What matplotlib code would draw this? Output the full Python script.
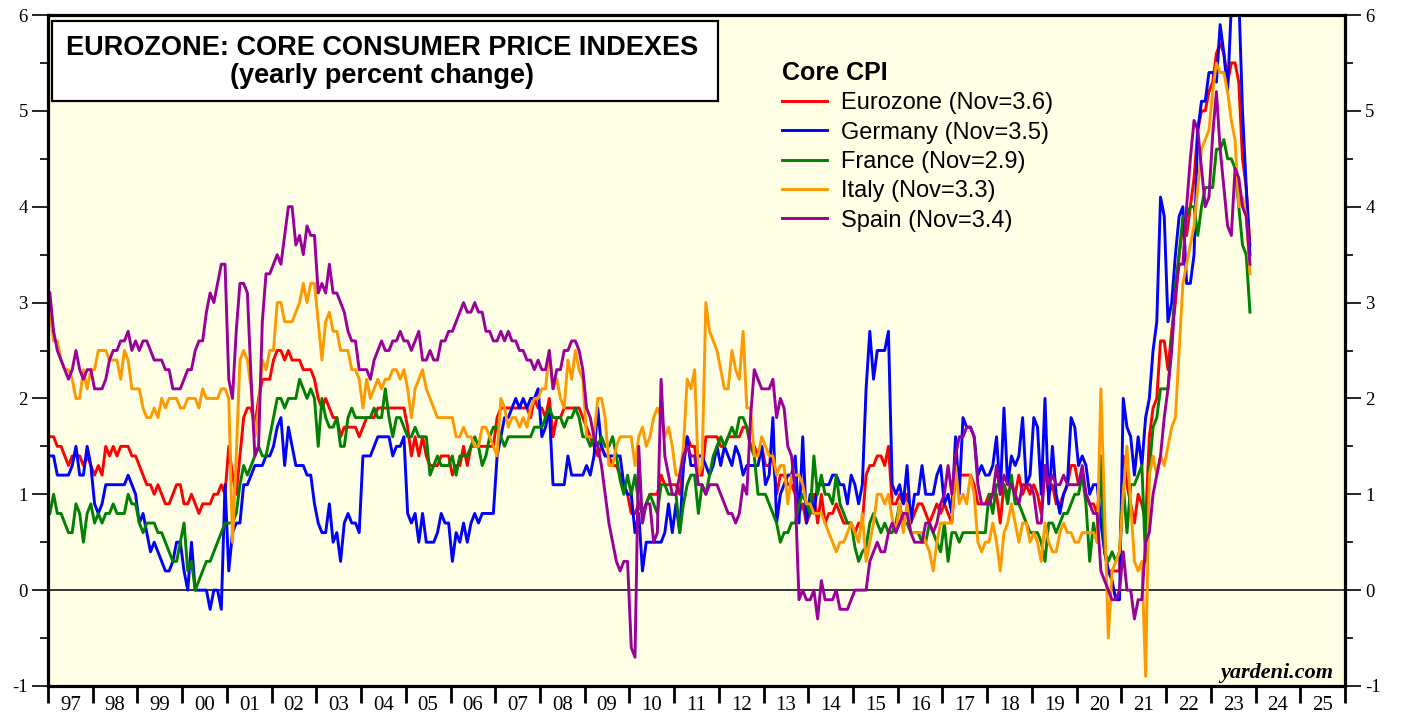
import matplotlib
matplotlib.use('Agg')
import matplotlib.pyplot as plt
from matplotlib.patches import Rectangle
import numpy as np
import pandas as pd

# monthly core CPI, yearly % change, Jan 1997 .. Nov 2023 (one row per year)
eurozone = [
    1.6, 1.6, 1.5, 1.5, 1.4, 1.3, 1.4, 1.4, 1.4, 1.3, 1.4, 1.3,
    1.2, 1.3, 1.2, 1.5, 1.4, 1.5, 1.4, 1.5, 1.5, 1.5, 1.4, 1.4,
    1.3, 1.2, 1.1, 1.1, 1.0, 1.1, 1.0, 0.9, 0.9, 1.0, 1.1, 1.1,
    0.9, 0.9, 1.0, 0.9, 0.8, 0.9, 0.9, 0.9, 1.0, 1.0, 1.1, 1.0,
    1.5, 1.2, 1.0, 1.4, 1.8, 1.9, 1.9, 1.7, 2.0, 2.2, 2.2, 2.2,
    2.4, 2.5, 2.5, 2.4, 2.5, 2.4, 2.4, 2.4, 2.3, 2.3, 2.3, 2.2,
    2.0, 1.9, 2.0, 1.9, 1.8, 1.8, 1.6, 1.7, 1.7, 1.7, 1.7, 1.6,
    1.7, 1.8, 1.8, 1.8, 1.9, 1.9, 1.9, 1.9, 1.9, 1.9, 1.9, 1.9,
    1.7, 1.4, 1.6, 1.4, 1.6, 1.4, 1.3, 1.3, 1.3, 1.4, 1.4, 1.4,
    1.2, 1.3, 1.3, 1.5, 1.3, 1.5, 1.5, 1.5, 1.5, 1.5, 1.5, 1.5,
    1.8, 1.9, 1.9, 1.9, 1.9, 1.9, 1.9, 1.9, 1.9, 1.8, 2.0, 1.9,
    1.9, 1.8, 2.0, 1.6, 1.8, 1.8, 1.9, 1.9, 1.9, 1.9, 1.9, 1.8,
    1.7, 1.6, 1.5, 1.4, 1.5, 1.4, 1.4, 1.3, 1.3, 1.2, 1.1, 1.0,
    0.8, 0.8, 0.9, 0.8, 0.9, 1.0, 1.0, 1.0, 1.2, 1.1, 1.1, 1.1,
    1.1, 1.0, 1.3, 1.6, 1.5, 1.5, 1.2, 1.2, 1.6, 1.6, 1.6, 1.6,
    1.5, 1.5, 1.6, 1.6, 1.6, 1.6, 1.7, 1.7, 1.5, 1.5, 1.4, 1.5,
    1.3, 1.3, 1.4, 1.0, 1.2, 1.2, 1.1, 1.1, 1.0, 0.8, 0.9, 0.7,
    0.8, 1.0, 0.7, 1.0, 0.7, 0.8, 0.8, 0.9, 0.8, 0.7, 0.7, 0.7,
    0.6, 0.7, 0.7, 1.2, 1.3, 1.3, 1.4, 1.4, 1.3, 1.5, 0.9, 0.9,
    1.0, 0.9, 1.0, 0.7, 0.8, 0.9, 0.9, 0.8, 0.7, 0.8, 0.9, 0.8,
    0.9, 0.8, 0.7, 1.2, 1.2, 1.2, 1.2, 1.2, 1.1, 0.9, 0.9, 0.9,
    1.0, 1.0, 1.0, 0.7, 1.1, 1.0, 1.1, 1.0, 1.2, 1.0, 1.1, 1.0,
    1.1, 1.0, 0.8, 1.3, 1.0, 1.1, 0.9, 0.9, 1.0, 1.1, 1.3, 1.3,
    1.1, 1.2, 1.0, 0.9, 0.9, 0.8, 1.2, 0.4, 0.2, 0.2, 0.2, 0.2,
    1.4, 1.1, 0.9, 0.7, 1.0, 0.9, 0.7, 1.6, 1.9, 2.0, 2.6, 2.6,
    2.3, 2.7, 3.0, 3.5, 3.8, 3.7, 4.0, 4.3, 4.8, 5.0, 5.0, 5.2,
    5.3, 5.6, 5.7, 5.6, 5.3, 5.5, 5.5, 5.3, 4.5, 4.2, 3.6,
]
germany = [
    1.4, 1.4, 1.2, 1.2, 1.2, 1.2, 1.3, 1.5, 1.2, 1.2, 1.5, 1.3,
    0.9, 0.8, 0.9, 1.1, 1.1, 1.1, 1.1, 1.1, 1.1, 1.2, 1.1, 1.0,
    0.7, 0.8, 0.6, 0.4, 0.5, 0.4, 0.3, 0.2, 0.2, 0.3, 0.5, 0.5,
    0.2, 0.0, 0.5, 0.0, 0.0, 0.0, 0.0, -0.2, 0.0, 0.0, -0.2, 1.1,
    0.2, 0.6, 0.7, 0.7, 1.1, 1.1, 1.2, 1.3, 1.3, 1.3, 1.4, 1.4,
    1.5, 1.7, 1.8, 1.3, 1.7, 1.5, 1.3, 1.3, 1.3, 1.2, 1.2, 0.9,
    0.7, 0.6, 0.6, 0.9, 0.5, 0.6, 0.3, 0.7, 0.8, 0.7, 0.7, 0.6,
    1.4, 1.4, 1.4, 1.5, 1.6, 1.6, 1.6, 1.6, 1.4, 1.5, 1.5, 1.6,
    0.8, 0.7, 0.8, 0.5, 0.8, 0.5, 0.5, 0.5, 0.6, 0.8, 0.7, 0.7,
    0.3, 0.6, 0.5, 0.7, 0.5, 0.7, 0.8, 0.7, 0.8, 0.8, 0.8, 0.8,
    1.4, 1.6, 1.8, 1.8, 1.9, 2.0, 1.9, 2.0, 1.9, 2.0, 2.0, 2.1,
    1.6, 1.7, 1.9, 1.1, 1.1, 1.1, 1.1, 1.4, 1.2, 1.2, 1.2, 1.2,
    1.3, 1.2, 1.4, 1.9, 1.5, 1.4, 1.4, 1.4, 1.4, 1.4, 1.1, 1.0,
    1.0, 0.6, 0.8, 0.2, 0.5, 0.5, 0.5, 0.5, 0.5, 0.6, 0.9, 0.6,
    0.9, 0.6, 1.3, 1.6, 1.3, 1.3, 1.4, 1.4, 1.3, 1.2, 1.3, 1.5,
    1.3, 1.5, 1.4, 1.3, 1.5, 1.4, 1.2, 1.3, 1.3, 1.3, 1.3, 1.5,
    1.1, 1.2, 1.8, 0.7, 1.0, 1.1, 1.2, 1.2, 1.4, 0.7, 1.6, 0.7,
    1.0, 0.8, 1.1, 1.1, 1.1, 1.1, 1.2, 1.2, 1.1, 1.1, 0.9, 1.2,
    1.1, 0.9, 1.1, 2.1, 2.7, 2.2, 2.5, 2.5, 2.5, 2.7, 1.1, 1.0,
    1.1, 0.9, 1.3, 0.7, 1.0, 1.0, 1.3, 1.0, 1.0, 1.0, 1.2, 1.3,
    0.9, 1.0, 0.8, 1.6, 1.0, 1.8, 1.7, 1.7, 1.6, 1.2, 1.3, 1.2,
    1.2, 1.3, 1.6, 1.0, 1.9, 1.1, 1.4, 1.3, 1.4, 1.8, 1.1, 1.2,
    1.8, 1.7, 1.0, 2.0, 0.9, 1.5, 1.0, 0.8, 1.0, 1.1, 1.8, 1.7,
    1.3, 1.4, 1.3, 1.0, 1.1, 1.1, 0.7, 0.4, 0.2, 0.1, -0.1, -0.1,
    2.0, 1.7, 1.6, 1.2, 1.6, 1.3, 1.8, 2.0, 2.5, 2.8, 4.1, 3.9,
    2.8, 3.0, 3.5, 3.9, 4.0, 3.2, 3.2, 3.5, 4.8, 5.1, 5.1, 5.4,
    5.4, 5.3, 5.9, 5.6, 5.2, 6.1, 6.3, 6.2, 5.0, 4.2, 3.5,
]
france = [
    0.8, 1.0, 0.8, 0.8, 0.7, 0.6, 0.6, 0.9, 0.8, 0.5, 0.8, 0.9,
    0.7, 0.8, 0.7, 0.8, 0.8, 0.9, 0.8, 0.8, 0.8, 1.0, 0.9, 0.9,
    0.7, 0.6, 0.7, 0.7, 0.7, 0.6, 0.6, 0.5, 0.4, 0.3, 0.3, 0.5,
    0.7, 0.2, 0.3, 0.0, 0.1, 0.2, 0.3, 0.3, 0.4, 0.5, 0.6, 0.7,
    0.7, 0.7, 0.8, 1.1, 1.3, 1.2, 1.3, 1.4, 1.5, 1.4, 1.4, 1.6,
    1.8, 2.0, 2.0, 1.9, 2.0, 2.0, 2.0, 2.2, 2.1, 2.0, 2.1, 2.0,
    1.5, 2.0, 1.8, 1.7, 1.7, 1.8, 1.5, 1.5, 1.8, 1.9, 1.8, 1.8,
    1.8, 1.8, 1.8, 1.9, 1.8, 1.8, 2.1, 1.8, 1.6, 1.8, 1.8, 1.7,
    1.6, 1.6, 1.7, 1.6, 1.6, 1.6, 1.2, 1.3, 1.4, 1.3, 1.3, 1.3,
    1.4, 1.2, 1.4, 1.4, 1.4, 1.5, 1.6, 1.5, 1.3, 1.4, 1.6, 1.7,
    1.7, 1.6, 1.5, 1.6, 1.6, 1.6, 1.6, 1.6, 1.6, 1.6, 1.7, 1.7,
    1.7, 1.8, 1.9, 1.8, 1.8, 1.8, 1.7, 1.8, 1.8, 1.9, 1.8, 1.6,
    1.6, 1.5, 1.6, 1.5, 1.6, 1.5, 1.5, 1.6, 1.4, 1.15, 1.0, 1.2,
    1.0, 1.2, 0.9, 0.8, 0.9, 1.0, 0.9, 0.8, 1.1, 1.1, 1.0, 1.0,
    1.0, 0.6, 0.9, 1.1, 1.2, 1.2, 0.8, 1.1, 1.0, 1.2, 1.4, 1.5,
    1.6, 1.5, 1.6, 1.7, 1.6, 1.8, 1.8, 1.7, 1.5, 1.4, 1.0, 1.0,
    1.0, 0.9, 0.8, 0.7, 0.5, 0.6, 0.6, 0.7, 0.7, 0.9, 1.0, 0.9,
    0.8, 1.4, 1.0, 1.2, 1.0, 1.0, 0.9, 1.2, 0.9, 0.8, 0.7, 0.7,
    0.45, 0.3, 0.4, 0.45, 0.7, 0.8, 0.7, 0.6, 0.7, 0.6, 0.6, 0.7,
    0.9, 0.7, 0.7, 0.6, 0.6, 0.6, 0.5, 0.5, 0.7, 0.6, 0.5, 0.4,
    0.7, 0.3, 0.6, 0.6, 0.5, 0.6, 0.6, 0.6, 0.6, 0.6, 0.6, 0.6,
    1.0, 0.8, 1.1, 1.1, 1.1, 0.9, 1.2, 0.9, 0.9, 0.8, 0.7, 0.6,
    0.6, 0.6, 0.5, 0.3, 0.7, 0.7, 0.6, 0.7, 0.8, 0.8, 0.9, 1.0,
    1.0, 1.2, 0.9, 0.3, 0.7, 0.5, 1.4, 0.4, 0.3, 0.4, 0.3, 0.4,
    1.1, 0.6, 1.1, 1.1, 1.2, 1.3, 0.3, 1.25, 1.7, 1.8, 2.1, 2.1,
    2.1, 2.6, 3.2, 3.5, 3.9, 3.9, 4.0, 4.0, 3.7, 4.0, 4.2, 4.2,
    4.2, 4.6, 4.6, 4.7, 4.5, 4.5, 4.4, 4.0, 3.6, 3.5, 2.9,
]
italy = [
    2.9, 2.6, 2.6, 2.4, 2.3, 2.3, 2.2, 2.0, 2.0, 2.3, 2.1, 2.3,
    2.3, 2.5, 2.5, 2.5, 2.4, 2.4, 2.4, 2.2, 2.5, 2.4, 2.1, 2.1,
    2.1, 1.9, 1.8, 1.8, 1.9, 1.8, 2.0, 1.9, 2.0, 2.0, 2.0, 1.9,
    1.9, 2.0, 2.0, 2.0, 1.9, 2.1, 2.0, 2.0, 2.0, 2.0, 2.1, 2.1,
    2.0, 0.5, 1.4, 2.4, 2.5, 2.4, 2.1, 1.6, 1.9, 2.4, 2.3, 2.5,
    2.5, 3.0, 3.0, 2.8, 2.8, 2.8, 2.9, 3.0, 3.2, 3.0, 3.2, 3.2,
    2.8, 2.4, 2.8, 2.9, 2.7, 2.7, 2.5, 2.5, 2.5, 2.3, 2.3, 2.2,
    1.9, 2.2, 2.0, 2.1, 2.2, 2.1, 2.2, 2.2, 2.3, 2.3, 2.2, 2.3,
    2.1, 1.8, 2.1, 2.2, 2.3, 2.1, 2.0, 1.9, 1.8, 1.8, 1.8, 1.8,
    1.8, 1.6, 1.6, 1.7, 1.6, 1.6, 1.5, 1.5, 1.7, 1.7, 1.6, 1.5,
    1.4, 2.0, 1.9, 1.7, 1.8, 1.8, 1.7, 1.8, 1.7, 1.9, 2.0, 2.0,
    2.1, 2.1, 2.5, 2.1, 2.2, 2.0, 1.9, 2.4, 2.2, 2.5, 2.3, 2.2,
    1.6, 1.6, 1.6, 2.0, 2.0, 1.8, 1.3, 1.3, 1.5, 1.6, 1.6, 1.6,
    1.6, 1.3, 1.6, 1.7, 1.5, 1.6, 1.8, 1.9, 1.8, 1.6, 1.7, 1.5,
    1.2, 1.2, 1.5, 2.2, 2.1, 2.3, 1.2, 1.3, 3.0, 2.7, 2.6, 2.5,
    2.3, 2.1, 2.1, 2.5, 2.3, 2.2, 2.7, 1.9, 1.9, 1.4, 1.4, 1.6,
    1.5, 1.4, 1.4, 1.2, 1.3, 1.3, 0.9, 1.2, 1.2, 1.2, 1.1, 0.9,
    0.9, 0.8, 0.8, 0.8, 0.7, 0.6, 0.5, 0.4, 0.5, 0.5, 0.6, 0.7,
    0.6, 0.5, 0.8, 0.3, 0.5, 0.7, 1.0, 1.0, 0.9, 1.0, 0.75, 0.6,
    0.9, 0.6, 0.9, 0.6, 0.6, 0.6, 0.6, 0.5, 0.4, 0.2, 0.5, 0.7,
    0.7, 0.7, 0.7, 1.3, 0.9, 1.0, 0.9, 1.2, 1.0, 0.5, 0.4, 0.5,
    0.5, 0.7, 0.5, 0.2, 0.6, 0.7, 0.9, 0.7, 0.5, 0.7, 0.7, 0.5,
    0.6, 0.5, 0.3, 0.7, 0.5, 0.4, 0.4, 0.6, 0.7, 0.6, 0.6, 0.5,
    0.5, 0.6, 0.6, 0.6, 0.6, 0.5, 2.1, 0.8, -0.5, 0.2, 0.3, 0.4,
    1.0, 1.5, 0.9, 0.3, 0.2, 0.3, -0.9, 1.2, 1.4, 1.2, 1.4, 1.3,
    1.5, 1.7, 1.8, 2.5, 3.2, 3.4, 3.6, 3.8, 4.2, 4.6, 4.7, 4.8,
    5.2, 5.5, 5.4, 5.4, 5.2, 4.9, 4.7, 4.0, 4.1, 3.9, 3.3,
]
spain = [
    3.1, 2.7, 2.5, 2.4, 2.3, 2.2, 2.3, 2.5, 2.3, 2.2, 2.3, 2.3,
    2.1, 2.1, 2.1, 2.2, 2.4, 2.5, 2.5, 2.6, 2.6, 2.7, 2.5, 2.6,
    2.5, 2.6, 2.6, 2.5, 2.4, 2.4, 2.4, 2.3, 2.3, 2.1, 2.1, 2.1,
    2.2, 2.3, 2.3, 2.5, 2.6, 2.6, 2.9, 3.1, 3.0, 3.2, 3.4, 3.4,
    2.2, 2.0, 2.7, 3.2, 3.2, 3.1, 2.2, 1.4, 1.5, 2.8, 3.3, 3.3,
    3.4, 3.5, 3.4, 3.7, 4.0, 4.0, 3.6, 3.7, 3.5, 3.8, 3.7, 3.7,
    3.1, 3.2, 3.1, 3.4, 3.1, 3.1, 3.0, 2.9, 2.7, 2.6, 2.6, 2.3,
    2.3, 2.3, 2.2, 2.4, 2.5, 2.6, 2.5, 2.5, 2.6, 2.6, 2.7, 2.6,
    2.6, 2.5, 2.6, 2.7, 2.4, 2.4, 2.5, 2.4, 2.4, 2.6, 2.6, 2.7,
    2.7, 2.8, 2.9, 3.0, 2.9, 2.9, 3.0, 2.9, 2.9, 2.7, 2.7, 2.6,
    2.6, 2.7, 2.6, 2.7, 2.6, 2.6, 2.5, 2.5, 2.4, 2.4, 2.3, 2.4,
    2.3, 2.3, 2.5, 2.1, 2.3, 2.3, 2.5, 2.5, 2.6, 2.6, 2.5, 2.3,
    1.9, 1.8, 1.6, 1.5, 1.3, 1.0, 0.7, 0.5, 0.3, 0.2, 0.3, 0.3,
    -0.6, -0.7, 1.5, 0.7, 0.9, 0.9, 0.5, 0.6, 2.2, 1.4, 1.2, 1.0,
    1.0, 1.2, 1.4, 1.5, 1.4, 1.4, 1.1, 1.1, 1.0, 1.1, 1.1, 1.1,
    1.0, 0.9, 0.8, 0.8, 0.7, 0.8, 1.1, 1.0, 1.8, 2.3, 2.2, 2.1,
    2.1, 2.1, 2.2, 1.8, 2.0, 1.9, 1.5, 1.4, 1.0, -0.1, 0.0, -0.1,
    -0.1, 0.0, -0.3, 0.1, -0.1, -0.1, -0.1, 0.0, -0.2, -0.2, -0.2, -0.1,
    0.0, 0.0, 0.0, 0.0, 0.3, 0.4, 0.5, 0.4, 0.4, 0.6, 0.7, 0.6,
    0.7, 0.8, 0.8, 0.6, 0.5, 0.5, 0.5, 0.7, 0.7, 0.6, 0.7, 0.9,
    1.0, 1.3, 1.0, 1.4, 1.6, 1.6, 1.7, 1.7, 1.6, 1.1, 0.9, 0.9,
    0.9, 1.0, 1.3, 1.0, 1.2, 1.1, 1.1, 1.0, 0.9, 1.1, 1.1, 1.1,
    1.0, 0.7, 0.7, 1.3, 1.1, 1.2, 1.1, 1.1, 1.2, 1.1, 1.1, 1.1,
    1.1, 1.3, 1.0, 0.9, 0.8, 0.8, 0.2, 0.1, 0.0, -0.1, -0.1, 0.0,
    0.4, 0.0, 0.0, -0.3, -0.1, -0.1, 0.5, 0.6, 1.0, 1.2, 1.4, 1.8,
    2.1, 2.5, 3.1, 3.4, 3.4, 4.0, 4.5, 4.9, 4.8, 4.4, 4.0, 4.1,
    4.75, 5.2, 4.6, 4.2, 3.8, 3.7, 4.4, 4.3, 4.0, 3.9, 3.4,
]

names = ['Eurozone', 'Germany', 'France', 'Italy', 'Spain']
colors = ['#ff0000', '#0000ff', '#008000', '#ff9900', '#990099']
year_labels = ['97', '98', '99', '00', '01', '02', '03', '04', '05', '06',
               '07', '08', '09', '10', '11', '12', '13', '14', '15', '16',
               '17', '18', '19', '20', '21', '22', '23', '24', '25']

months = pd.date_range('1997-01-01', periods=len(eurozone), freq='MS')
x = months.year + (months.month - 0.5) / 12

plt.rcParams['font.family'] = 'Liberation Serif'
plt.rcParams['axes.unicode_minus'] = False

W, H = 1403, 717
fig = plt.figure(figsize=(W / 100, H / 100), dpi=100)
ax = fig.add_axes([48 / W, 31 / H, 1297 / W, 671 / H])
ax.set_facecolor('#ffffe5')

for name, vals, c in zip(names, [eurozone, germany, france, italy, spain], colors):
    ax.plot(x, vals, color=c, lw=2.1, label=f'{name} (Nov={vals[-1]:.1f})')

ax.axhline(0, color='black', lw=1.1, zorder=1)

ax.set_xlim(1997, 2026)
ax.set_ylim(-1, 6)

years = np.arange(1997, 2027)
ax.set_xticks(years)
ax.set_xticklabels([])
ax.set_xticks(years[:-1] + 0.5, minor=True)
ax.set_xticklabels(year_labels, minor=True)
ax.tick_params(axis='x', which='major', direction='out', length=12, width=2)
ax.tick_params(axis='x', which='minor', length=0, pad=7, labelsize=15)

ax.set_yticks(range(-1, 7))
ax.set_yticks(np.arange(-0.5, 6, 1), minor=True)
ax.tick_params(axis='y', which='both', direction='out', left=True, right=True,
               labelleft=True, labelright=True)
ax.tick_params(axis='y', which='major', length=11.5, width=1.2, pad=3, labelsize=13.5)
ax.tick_params(axis='y', which='minor', length=6, width=1.2)

for s in ax.spines.values():
    s.set_linewidth(2.3)

# title box
ax.add_patch(Rectangle((52 / W, 1 - 101 / H), 666 / W, 80 / H, transform=fig.transFigure,
                       facecolor='white', edgecolor='black', lw=1.6, zorder=5, clip_on=False))
fig.text(382 / W, 1 - 55 / H, 'EUROZONE: CORE CONSUMER PRICE INDEXES', ha='center',
         va='baseline', fontsize=19.5, fontweight='bold', family='Liberation Sans', zorder=6)
fig.text(382 / W, 1 - 83 / H, '(yearly percent change)', ha='center',
         va='baseline', fontsize=19.5, fontweight='bold', family='Liberation Sans', zorder=6)

leg = ax.legend(loc='upper left', bbox_to_anchor=(782 / W, 1 - 61 / H),
                bbox_transform=fig.transFigure, frameon=False, borderpad=0,
                borderaxespad=0, handlelength=1.9, handletextpad=0.6,
                labelspacing=0.31, title='Core CPI', alignment='left',
                prop={'family': 'Liberation Sans', 'size': 17},
                title_fontproperties={'family': 'Liberation Sans', 'size': 18,
                                      'weight': 'bold'})

fig.text(1333 / W, 1 - 678 / H, 'yardeni.com', ha='right', va='baseline',
         fontsize=16, fontweight='bold', fontstyle='italic')

fig.savefig('out.png', dpi=100)
